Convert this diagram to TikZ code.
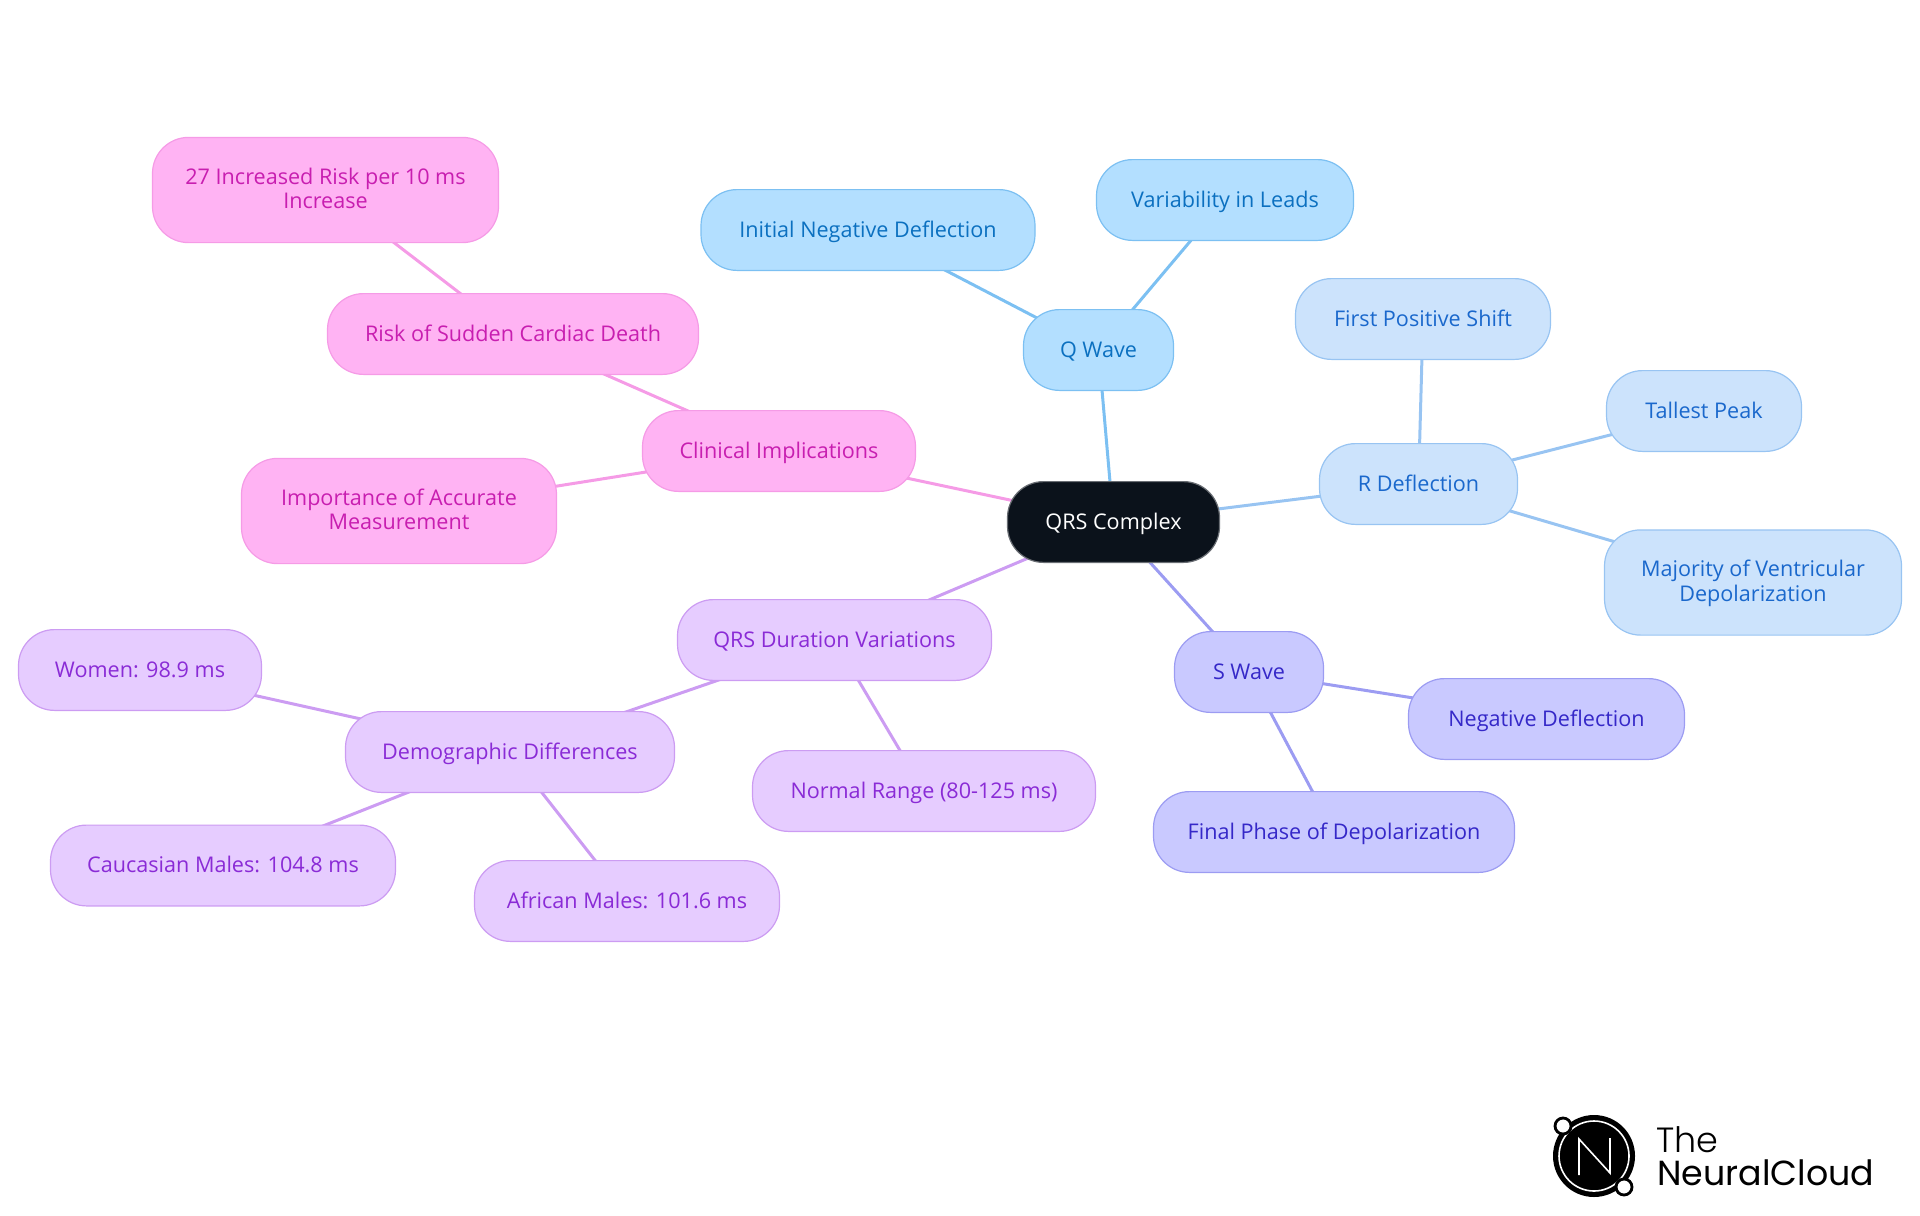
\documentclass[tikz,border=0pt]{standalone}
\usepackage{fontspec}
\setmainfont{Open Sans}
\newfontfamily\logofont{Poppins}
\newfontfamily\logolight[UprightFont=* Light]{Poppins}
\usepackage{tikz}
\usetikzlibrary{backgrounds}
\definecolor{rootfill}{HTML}{0B121B}
\definecolor{rootline}{HTML}{6A6E74}
\definecolor{qfill}{HTML}{B3DFFF}
\definecolor{qline}{HTML}{7CC0F2}
\definecolor{qtext}{HTML}{0B70C0}
\definecolor{rfill}{HTML}{CCE3FC}
\definecolor{rline}{HTML}{98C4F2}
\definecolor{rtext}{HTML}{1A68CC}
\definecolor{sfill}{HTML}{C9C9FF}
\definecolor{sline}{HTML}{9C9CF2}
\definecolor{stext}{HTML}{3528C8}
\definecolor{cfill}{HTML}{FFB3F3}
\definecolor{cline}{HTML}{F59BE6}
\definecolor{ctext}{HTML}{C81EB0}
\definecolor{dfill}{HTML}{E6CCFF}
\definecolor{dline}{HTML}{CC9CF2}
\definecolor{dtext}{HTML}{8A2BD6}
\tikzset{
  mapnode/.style  = {rectangle, rounded corners=18pt, line width=0.6pt, inner sep=0pt,
                     minimum height=40.4pt, text height=9.4pt, text depth=2.2pt, align=center,
                     font=\fontsize{10.8}{12.2}\selectfont},
  rootnode/.style = {mapnode, fill=rootfill, draw=rootline, text=white},
  qnode/.style    = {mapnode, fill=qfill, draw=qline, text=qtext},
  rnode/.style    = {mapnode, fill=rfill, draw=rline, text=rtext},
  snode/.style    = {mapnode, fill=sfill, draw=sline, text=stext},
  cnode/.style    = {mapnode, fill=cfill, draw=cline, text=ctext},
  dnode/.style    = {mapnode, fill=dfill, draw=dline, text=dtext},
  twoline/.style  = {minimum height=52.6pt, text height=21pt},
  edgeln/.style   = {line width=1.5pt}
}
\begin{document}
\begin{tikzpicture}[x=0.5pt,y=-0.5pt]
  \useasboundingbox (0,0) rectangle (1920,1215);
  % --- centre -------------------------------------------------------------
  \node[rootnode,minimum width=106pt] (root) at (1113.5,522) {QRS Complex};
  % --- Q wave branch ------------------------------------------------------
  \node[qnode,minimum width=75pt] (qwave) at (1098.5,350) {Q Wave};
  \node[qnode,minimum width=167pt] (qinit) at (868,230) {Initial Negative Deflection};
  \node[qnode,minimum width=128.5pt] (qvar) at (1225,200) {Variability in Leads};
  % --- R deflection branch ------------------------------------------------
  \node[rnode,minimum width=99pt] (rdefl) at (1418.5,484) {R Deflection};
  \node[rnode,minimum width=127.5pt] (rfirst) at (1423,319) {First Positive Shift};
  \node[rnode,minimum width=97.5pt] (rpeak) at (1704,411) {Tallest Peak};
  \node[rnode,twoline,minimum width=148.5pt] (rmaj) at (1753,582.5) {Majority of Ventricular\\Depolarization};
  % --- S wave branch ------------------------------------------------------
  \node[snode,minimum width=74.5pt] (swave) at (1249,672) {S Wave};
  \node[snode,minimum width=138pt] (sneg) at (1546.5,719) {Negative Deflection};
  \node[snode,minimum width=180.5pt] (sfinal) at (1334,832) {Final Phase of Depolarization};
  % --- clinical branch ----------------------------------------------------
  \node[cnode,minimum width=136.5pt] (clin) at (779,451) {Clinical Implications};
  \node[cnode,minimum width=185.5pt] (crisk) at (513,334) {Risk of Sudden Cardiac Death};
  \node[cnode,twoline,minimum width=173pt] (cinc) at (325.5,190) {27 Increased Risk per 10 ms\\Increase};
  \node[cnode,twoline,minimum width=157.5pt] (cimp) at (399,511) {Importance of Accurate\\Measurement};
  % --- duration branch ----------------------------------------------------
  \node[dnode,minimum width=157pt] (dur) at (834.5,640) {QRS Duration Variations};
  \node[dnode,minimum width=164.5pt] (ddemo) at (510,752) {Demographic Differences};
  \node[dnode,minimum width=171.5pt] (dnorm) at (924,791) {Normal Range (80-125 ms)};
  \node[dnode,minimum width=121.5pt] (dwomen) at (140,670) {Women: 98.9 ms};
  \node[dnode,minimum width=172.5pt] (dcauc) at (223,865.5) {Caucasian Males: 104.8 ms};
  \node[dnode,minimum width=152.5pt] (dafr) at (627,901) {African Males: 101.6 ms};
  % connectors run centre to centre, behind the boxes
  \begin{scope}[on background layer]
    \draw[edgeln,qline] (root.center) -- (qwave.center);
    \draw[edgeln,qline] (qwave.center) -- (qinit.center);
    \draw[edgeln,qline] (qwave.center) -- (qvar.center);
    \draw[edgeln,rline] (root.center) -- (rdefl.center);
    \draw[edgeln,rline] (rdefl.center) -- (rfirst.center);
    \draw[edgeln,rline] (rdefl.center) -- (rpeak.center);
    \draw[edgeln,rline] (rdefl.center) -- (rmaj.center);
    \draw[edgeln,sline] (root.center) -- (swave.center);
    \draw[edgeln,sline] (swave.center) -- (sneg.center);
    \draw[edgeln,sline] (swave.center) -- (sfinal.center);
    \draw[edgeln,cline] (root.center) -- (clin.center);
    \draw[edgeln,cline] (clin.center) -- (crisk.center);
    \draw[edgeln,cline] (crisk.center) -- (cinc.center);
    \draw[edgeln,cline] (clin.center) -- (cimp.center);
    \draw[edgeln,dline] (root.center) -- (dur.center);
    \draw[edgeln,dline] (dur.center) -- (ddemo.center);
    \draw[edgeln,dline] (dur.center) -- (dnorm.center);
    \draw[edgeln,dline] (ddemo.center) -- (dwomen.center);
    \draw[edgeln,dline] (ddemo.center) -- (dcauc.center);
    \draw[edgeln,dline] (ddemo.center) -- (dafr.center);
  \end{scope}
  % --- logo, bottom right -------------------------------------------------
  \fill[black] (1594,1156) circle (20.5pt);
  \draw[white,line width=0.8pt] (1594,1156) circle (17.5pt);
  \draw[white,line width=0.8pt] (1579,1175) -- (1579,1139) -- (1610,1173) -- (1610,1138);
  \draw[black,fill=white,line width=1.4pt] (1563,1126) circle (4pt);
  \draw[black,fill=white,line width=1.4pt] (1624,1187) circle (4pt);
  \node[anchor=base west,inner sep=0pt,font=\logolight\fontsize{17.5}{20}\selectfont] (logotop) at (1656,1152) {The};
  \node[anchor=base west,inner sep=0pt,font=\logofont\fontsize{17.4}{20}\selectfont] (logoname) at (1657,1185) {NeuralCloud};
\end{tikzpicture}
\end{document}
